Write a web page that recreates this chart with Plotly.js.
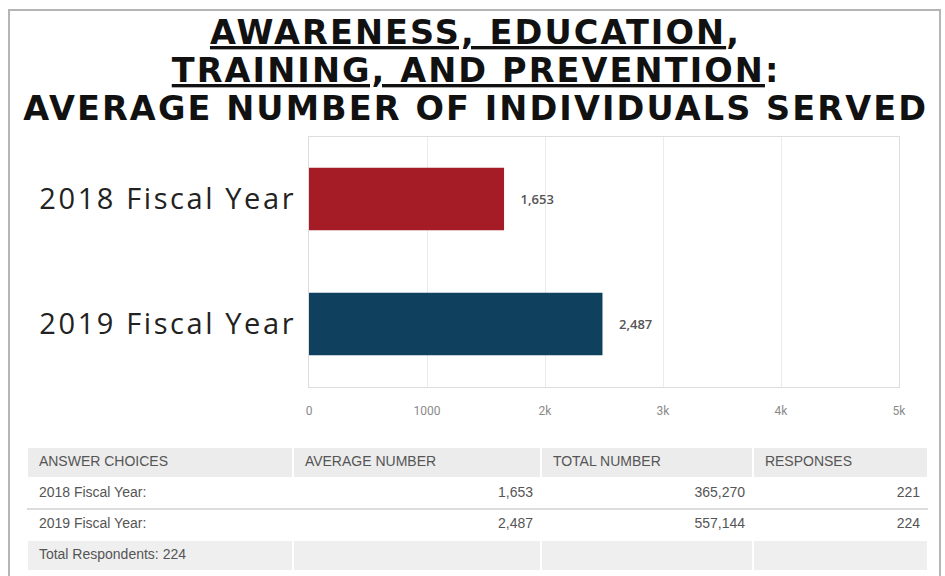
<!DOCTYPE html>
<html>
<head>
<meta charset="utf-8">
<script src="https://cdn.plot.ly/plotly-3.0.1.min.js"></script>
<style>
  html, body { margin: 0; padding: 0; background: #ffffff; }
  #chart { width: 945px; height: 576px; }
  #chart .ytick text { letter-spacing: 2.6px; }
  #chart .annotation-text { letter-spacing: 2.1px; }
</style>
</head>
<body>
<div id="chart"></div>
<script>
// ---- data ----
const categories = ['2018 Fiscal Year', '2019 Fiscal Year'];
const averageNumber = [1653, 2487];
const totalNumber = [365270, 557144];
const responses = [221, 224];
const totalRespondents = 224;
const barColors = ['#a51c26', '#0f405d'];
const xTickVals = [0, 1000, 2000, 3000, 4000, 5000];
const xTickText = ['0', '1000', '2k', '3k', '4k', '5k'];
const tableHeaders = ['ANSWER CHOICES', 'AVERAGE NUMBER', 'TOTAL NUMBER', 'RESPONSES'];
const titleLines = [
  '<u>AWARENESS, EDUCATION</u>,',
  '<u>TRAINING, AND PREVENTION</u>:',
  'AVERAGE NUMBER OF INDIVIDUALS SERVED'
];

const W = 945, H = 576;
const px = v => v / W;
const py = v => 1 - v / H;
const fmt = n => n.toLocaleString('en-US');

const bar = {
  type: 'bar',
  orientation: 'h',
  y: categories,
  x: averageNumber,
  marker: { color: barColors },
  width: 0.5,
  text: averageNumber.map(fmt),
  texttemplate: '\u00a0\u00a0\u00a0\u00a0%{text}',
  textposition: 'outside',
  cliponaxis: false,
  textfont: { family: 'Open Sans, sans-serif', size: 13, color: '#555555', weight: 600 },
  hoverinfo: 'skip',
  xaxis: 'x', yaxis: 'y'
};

const table = {
  type: 'table',
  domain: { x: [px(27), px(928)], y: [0, py(447)] },
  columnwidth: [266, 248, 212, 175],
  header: {
    values: tableHeaders.map(h => ['\u00a0' + h]),
    align: 'left',
    height: 31,
    fill: { color: '#ececec' },
    line: { color: '#ffffff', width: 2 },
    font: { family: 'Liberation Sans Narrow, Liberation Sans, Arial, sans-serif', size: 14, color: '#555555' }
  },
  cells: {
    values: [
      categories.map(c => '\u00a0' + c + ':').concat(['\u00a0Total Respondents: ' + totalRespondents]),
      averageNumber.map(fmt).concat(['']),
      totalNumber.map(fmt).concat(['']),
      responses.map(fmt).concat([''])
    ],
    align: ['left', 'right', 'right', 'right'],
    height: 31,
    fill: { color: [['#ffffff', '#ffffff', '#efefef']] },
    line: { color: '#ffffff', width: 2 },
    font: { family: 'Liberation Sans Narrow, Liberation Sans, Arial, sans-serif', size: 14, color: '#555555' }
  }
};

const titleY = [py(33), py(70.5), py(108)];
const annotations = titleLines.map((t, i) => ({
  text: '<b>' + t + '</b>',
  xref: 'paper', yref: 'paper',
  x: px(476), y: titleY[i],
  xanchor: 'center', yanchor: 'middle',
  showarrow: false,
  font: { family: 'DejaVu Sans, sans-serif', size: 33.5, color: '#111111' }
}));

const layout = {
  width: W, height: H,
  margin: { l: 0, r: 0, t: 0, b: 0 },
  paper_bgcolor: '#ffffff',
  plot_bgcolor: '#ffffff',
  showlegend: false,
  xaxis: {
    domain: [px(309), px(899)],
    range: [0, 5000],
    tickvals: xTickVals,
    ticktext: xTickText,
    showgrid: true,
    gridcolor: '#ebebeb',
    zeroline: false,
    showline: true,
    linecolor: '#dddddd',
    mirror: true,
    ticks: '',
    ticklabelstandoff: 13,
    tickfont: { family: 'Roboto, sans-serif', size: 12, color: '#8a8a8a' },
    fixedrange: true
  },
  yaxis: {
    domain: [py(386.5), py(136.5)],
    type: 'category',
    autorange: 'reversed',
    showgrid: false,
    zeroline: false,
    showline: true,
    linecolor: '#dddddd',
    mirror: true,
    ticks: '',
    ticklabelstandoff: 6,
    tickfont: { family: 'Open Sans, sans-serif', size: 29, color: '#222222' },
    fixedrange: true
  },
  annotations: annotations,
  shapes: [
    { type: 'rect', xref: 'paper', yref: 'paper', x0: px(9), x1: px(940), y0: py(580), y1: py(10),
      line: { color: '#b5b5b5', width: 2 }, fillcolor: 'rgba(0,0,0,0)', layer: 'above' },
    { type: 'line', xref: 'paper', yref: 'paper', x0: px(27), x1: px(928), y0: py(509), y1: py(509),
      line: { color: '#dcdcdc', width: 2 }, layer: 'above' }
  ]
};

Plotly.newPlot('chart', [bar, table], layout, { displayModeBar: false, staticPlot: true });
</script>
</body>
</html>
